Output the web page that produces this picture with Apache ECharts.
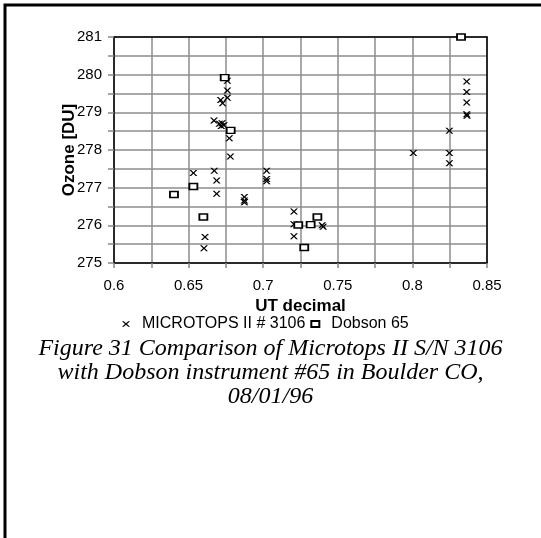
<!DOCTYPE html>
<html>
<head>
<meta charset="utf-8">
<script src="https://cdn.jsdelivr.net/npm/echarts@6/dist/echarts.min.js"></script>
<style>
html,body{margin:0;padding:0;background:#fff;}
#chart{width:541px;height:538px;}
</style>
</head>
<body>
<div id="chart"></div>
<script>
// MICROTOPS II # 3106
var microX = [0.676,0.676,0.676,0.6715,0.6728,0.667,0.6706,0.6724,0.6737,0.6719,0.6773,0.678,
  0.6532,0.6672,0.6688,0.6688,0.7023,0.7023,0.7023,0.6874,0.6874,0.6874,0.661,0.6603,
  0.7206,0.7206,0.7206,0.7395,0.7402,0.8364,0.8364,0.8364,0.8364,0.8366,0.8248,0.8006,0.8248,0.8248];
var microY = [279.84,279.58,279.39,279.33,279.24,278.78,278.70,278.71,278.66,278.64,278.31,277.83,
  277.39,277.45,277.19,276.84,277.45,277.23,277.17,276.75,276.66,276.61,275.69,275.39,
  276.37,276.03,275.71,276.00,275.96,279.82,279.54,279.26,278.95,278.91,278.51,277.92,277.92,277.65];
// Dobson 65
var dobsonX = [0.6742,0.6782,0.6532,0.6402,0.6599,0.7235,0.7318,0.7363,0.7275,0.8326];
var dobsonY = [279.92,278.52,277.03,276.82,276.22,276.01,276.02,276.22,275.41,281.0];
// tick labels
var xTickLabels = ['0.6','0.65','0.7','0.75','0.8','0.85'];
var yTickLabels = ['275','276','277','278','279','280','281'];
var seriesNames = ['MICROTOPS II # 3106','Dobson 65'];
var captionLines = ['Figure 31 Comparison of Microtops II S/N 3106','with Dobson instrument #65 in Boulder CO,','08/01/96'];

function zip(a,b){var r=[];for(var i=0;i<a.length;i++)r.push([a[i],b[i]]);return r;}
var xMin=0.6,xMax=0.85,yMin=275,yMax=281;
function xLab(v){
  for(var i=0;i<xTickLabels.length;i++){if(Math.abs(parseFloat(xTickLabels[i])-v)<1e-6)return xTickLabels[i];}
  return '';
}
function yLab(v){
  for(var i=0;i<yTickLabels.length;i++){if(Math.abs(parseFloat(yTickLabels[i])-v)<1e-6)return yTickLabels[i];}
  return '';
}
var xSym='path://M0,0 L2.2,0 L5,2.6 L7.8,0 L10,0 L6.2,3.5 L10,7 L7.8,7 L5,4.4 L2.2,7 L0,7 L3.8,3.5 Z';
var font='Liberation Sans, Arial, sans-serif';
var chart=echarts.init(document.getElementById('chart'),null,{renderer:'canvas'});
chart.setOption({
  animation:false,
  backgroundColor:'#fff',
  grid:{left:114,right:54,top:37,bottom:275,containLabel:false},
  title:{
    text:captionLines.join('\n'),
    left:'center',top:332,
    textStyle:{fontFamily:'Liberation Serif, Times New Roman, serif',fontStyle:'italic',fontWeight:'normal',fontSize:24,lineHeight:24,color:'#000'}
  },
  legend:{
    left:117,top:311,itemWidth:8,itemHeight:6,itemGap:5,
    textStyle:{fontFamily:font,fontSize:16,color:'#000',padding:[0,0,0,7]},
    data:[{name:seriesNames[0],icon:xSym},{name:seriesNames[1],icon:'rect'}]
  },
  xAxis:[{
    type:'value',min:xMin,max:xMax,interval:0.025,
    name:'UT decimal',nameLocation:'middle',nameGap:35,
    nameTextStyle:{fontFamily:font,fontSize:17,fontWeight:'bold',color:'#000'},
    axisLine:{show:true,lineStyle:{color:'#000',width:1.5}},
    axisTick:{show:true,length:5,lineStyle:{color:'#888',width:1.5}},
    axisLabel:{formatter:xLab,margin:15,fontFamily:font,fontSize:15,color:'#000',showMinLabel:true,showMaxLabel:true},
    splitLine:{show:true,lineStyle:{color:'#8c8c8c',width:1.5}}
  },{
    type:'value',position:'top',min:xMin,max:xMax,interval:0.025,
    axisLine:{show:true,lineStyle:{color:'#000',width:1.5}},
    axisTick:{show:false},axisLabel:{show:false},splitLine:{show:false}
  }],
  yAxis:[{
    type:'value',min:yMin,max:yMax,interval:0.5,
    name:'Ozone [DU]',nameLocation:'middle',nameGap:36,nameRotate:90,nameMoveOverlap:false,
    nameTextStyle:{fontFamily:font,fontSize:17,fontWeight:'bold',color:'#000'},
    axisLine:{show:true,lineStyle:{color:'#000',width:1.5}},
    axisTick:{show:true,length:6,lineStyle:{color:'#888',width:1.5}},
    axisLabel:{formatter:yLab,margin:12,fontFamily:font,fontSize:15,color:'#000',showMinLabel:true,showMaxLabel:true},
    splitLine:{show:true,lineStyle:{color:'#8c8c8c',width:1.5}}
  },{
    type:'value',position:'right',min:yMin,max:yMax,interval:0.5,
    axisLine:{show:true,lineStyle:{color:'#000',width:1.5}},
    axisTick:{show:false},axisLabel:{show:false},splitLine:{show:false}
  }],
  series:[{
    name:seriesNames[0],type:'scatter',data:zip(microX,microY),
    symbol:xSym,symbolSize:[8,6],
    itemStyle:{color:'#000',opacity:1},z:3
  },{
    name:seriesNames[1],type:'scatter',data:zip(dobsonX,dobsonY),
    symbol:'rect',symbolSize:[8,6],
    itemStyle:{color:'#fff',borderColor:'#000',borderWidth:1.6,opacity:1},z:4
  }],
  graphic:[{
    type:'polyline',silent:true,z:100,
    shape:{points:[[5,538],[5,5],[541,5]]},
    style:{stroke:'#000',lineWidth:3,fill:null}
  }]
});
</script>
</body>
</html>
